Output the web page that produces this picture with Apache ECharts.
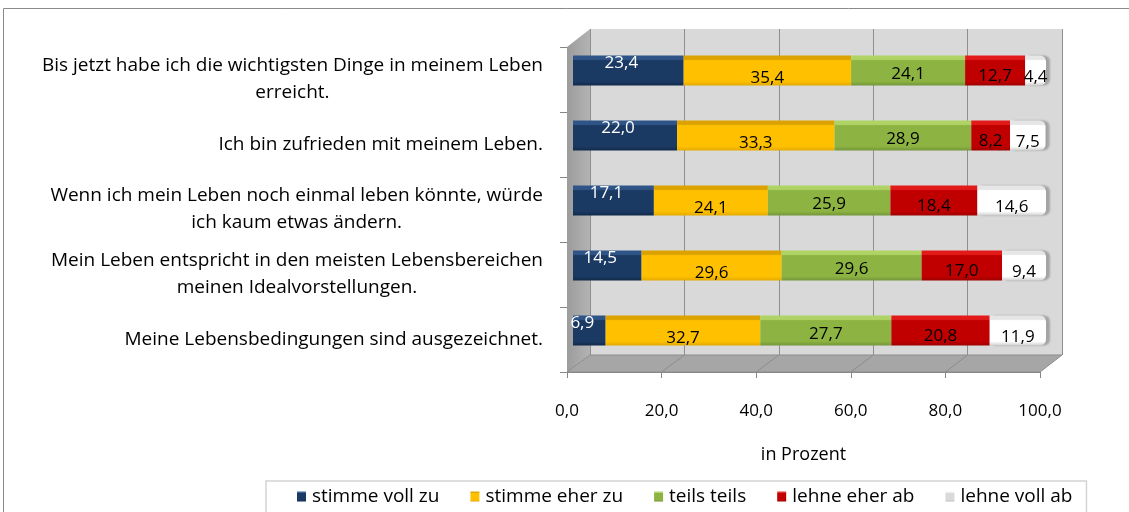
<!DOCTYPE html>
<html>
<head>
<meta charset="utf-8">
<script src="https://cdn.jsdelivr.net/npm/echarts@6/dist/echarts.min.js"></script>
<style>
  html, body { margin: 0; padding: 0; background: #ffffff; }
  #chart { width: 1129px; height: 512px; }
</style>
</head>
<body>
<div id="chart"></div>
<script>
// Statements (top to bottom) and answer shares in percent
const categories = [
  'Bis jetzt habe ich die wichtigsten Dinge in meinem Leben\nerreicht.',
  'Ich bin zufrieden mit meinem Leben.',
  'Wenn ich mein Leben noch einmal leben könnte, würde\nich kaum etwas ändern.',
  'Mein Leben entspricht in den meisten Lebensbereichen\nmeinen Idealvorstellungen.',
  'Meine Lebensbedingungen sind ausgezeichnet.'
];
const seriesNames = ['stimme voll zu', 'stimme eher zu', 'teils teils', 'lehne eher ab', 'lehne voll ab'];
const stimmeVollZu = [23.4, 22.0, 17.1, 14.5, 6.9];
const stimmeEherZu = [35.4, 33.3, 24.1, 29.6, 32.7];
const teilsTeils   = [24.1, 28.9, 25.9, 29.6, 27.7];
const lehneEherAb  = [12.7, 8.2, 18.4, 17.0, 20.8];
const lehneVollAb  = [4.4, 7.5, 14.6, 9.4, 11.9];
const axisMin = 0, axisMax = 100, axisStep = 20;
const axisTitle = 'in Prozent';

const FONT = '"Open Sans", "Noto Sans", sans-serif';

// Pseudo-3D frame: front axis plane, bar plane (mid depth) and back wall
const front = { left: 567, top: 47, width: 473, height: 325 };
const bars  = { left: 573, top: 38, width: 473, height: 325 };
const wall  = { left: 590, top: 29, width: 472, height: 326 };

const fmt = v => v.toFixed(1).replace('.', ',');

function shade(top, face, bottom) {
  return new echarts.graphic.LinearGradient(0, 0, 0, 1, [
    { offset: 0, color: top },
    { offset: 0.13, color: top },
    { offset: 0.17, color: face },
    { offset: 0.86, color: face },
    { offset: 1, color: bottom }
  ]);
}

const styles = [
  { fill: shade('#2f5588', '#1b3a63', '#12294a'), text: '#ffffff', offset: [-7, -7] },
  { fill: shade('#dca300', '#ffc000', '#e3aa00'), text: '#000000', offset: [0, 8] },
  { fill: shade('#b0d366', '#8db442', '#73963a'), text: '#000000', offset: [0, 4] },
  { fill: shade('#e21a1a', '#c00000', '#9e0000'), text: '#000000', offset: [0, 6] },
  { fill: shade('#e6e6e6', '#ffffff', '#cfcfcf'), text: '#000000', offset: [0, 7] }
];
const legendIcons = [
  shade('#3b6397', '#1b3a63', '#12294a'),
  shade('#e0a800', '#ffc000', '#d99e00'),
  shade('#b5d66e', '#8db442', '#6b8d35'),
  shade('#e83030', '#c00000', '#950000'),
  shade('#f2f2f2', '#d9d9d9', '#bdbdbd')
];
const values = [stimmeVollZu, stimmeEherZu, teilsTeils, lehneEherAb, lehneVollAb];

const series = values.map((data, i) => ({
  name: seriesNames[i],
  type: 'bar',
  stack: 'total',
  xAxisIndex: 2,
  yAxisIndex: 2,
  barWidth: 30,
  data: data,
  itemStyle: Object.assign(
    { color: styles[i].fill },
    i === values.length - 1
      ? { borderRadius: [0, 6, 6, 0], shadowColor: 'rgba(120,120,120,0.55)', shadowOffsetX: 4, shadowBlur: 2 }
      : {}
  ),
  label: {
    show: true,
    position: 'inside',
    offset: styles[i].offset,
    formatter: p => fmt(p.value),
    color: styles[i].text,
    fontFamily: FONT,
    fontSize: 17
  },
  emphasis: { disabled: true },
  animation: false
}));

// Decorative side wall and floor of the 3D frame
const floorY0 = wall.top + wall.height;
const floorY1 = front.top + front.height;
const floorLines = [];
for (let v = axisMin + axisStep; v < axisMax; v += axisStep) {
  const t = (v - axisMin) / (axisMax - axisMin);
  floorLines.push({
    type: 'line', z: 1, silent: true,
    shape: { x1: wall.left + t * wall.width, y1: floorY0, x2: front.left + t * front.width, y2: floorY1 },
    style: { stroke: '#8c8c8c', lineWidth: 1 }
  });
}

const graphic = [
  { type: 'rect', z: 0, silent: true,
    shape: { x: 3.5, y: 8.5, width: 1300, height: 700 },
    style: { fill: 'none', stroke: '#8a8a8a', lineWidth: 1 } },
  { type: 'polygon', z: 1, silent: true,
    shape: { points: [[front.left, front.top], [wall.left, wall.top], [wall.left, floorY0], [front.left, floorY1]] },
    style: { fill: new echarts.graphic.LinearGradient(0, 0, 1, 0, [
      { offset: 0, color: '#9c9c9c' }, { offset: 1, color: '#b3b3b3' }]) } },
  { type: 'polygon', z: 1, silent: true,
    shape: { points: [[front.left, floorY1], [wall.left, floorY0], [wall.left + wall.width, floorY0], [front.left + front.width, floorY1]] },
    style: { fill: '#a6a6a6', stroke: '#8c8c8c', lineWidth: 1 } }
].concat(floorLines);

const option = {
  backgroundColor: '#ffffff',
  animation: false,
  graphic: graphic,
  grid: [
    Object.assign({ show: true, backgroundColor: '#d9d9d9', borderWidth: 0, containLabel: false }, wall),
    Object.assign({ show: false, containLabel: false }, front),
    Object.assign({ show: false, containLabel: false }, bars)
  ],
  xAxis: [
    { type: 'value', gridIndex: 0, min: axisMin, max: axisMax, interval: axisStep,
      axisLine: { show: false }, axisTick: { show: false }, axisLabel: { show: false },
      splitLine: { show: true, lineStyle: { color: '#8f8f8f', width: 1 } } },
    { type: 'value', gridIndex: 1, min: axisMin, max: axisMax, interval: axisStep,
      axisLine: { show: true, lineStyle: { color: '#868686', width: 1 } },
      axisTick: { show: true, length: 6, lineStyle: { color: '#868686' } },
      axisLabel: { show: true, margin: 31, formatter: v => fmt(v), color: '#000000', fontFamily: FONT, fontSize: 17 },
      splitLine: { show: false },
      name: axisTitle, nameLocation: 'middle', nameGap: 74,
      nameTextStyle: { color: '#000000', fontFamily: FONT, fontSize: 18 } },
    { type: 'value', gridIndex: 2, min: axisMin, max: axisMax, show: false }
  ],
  yAxis: [
    { type: 'category', gridIndex: 0, data: categories, inverse: true, show: false },
    { type: 'category', gridIndex: 1, data: categories, inverse: true,
      axisLine: { show: false },
      axisTick: { show: true, length: 7, lineStyle: { color: '#868686' } },
      splitLine: { show: false },
      axisLabel: {
        show: true, margin: 24, color: '#000000', fontFamily: FONT, fontSize: 19, lineHeight: 27,
        formatter: v => v.split('\n').map(s => '{c|' + s + '}').join('\n'),
        rich: { c: { align: 'center', color: '#000000', fontFamily: FONT, fontSize: 19, lineHeight: 27 } }
      } },
    { type: 'category', gridIndex: 2, data: categories, inverse: true, show: false }
  ],
  legend: {
    data: seriesNames.map((name, i) => ({ name: name, itemStyle: { color: legendIcons[i] } })),
    left: 266, top: 481,
    orient: 'horizontal',
    icon: 'rect',
    itemWidth: 9, itemHeight: 10, itemGap: 31,
    padding: [6, 14, 20, 31],
    borderColor: '#d4d4d4', borderWidth: 1.5,
    backgroundColor: '#ffffff',
    textStyle: { color: '#000000', fontFamily: FONT, fontSize: 19, padding: [0, 0, 0, 1] },
    selectedMode: false
  },
  series: series
};

const chart = echarts.init(document.getElementById('chart'), null, { renderer: 'canvas' });
chart.setOption(option);
</script>
</body>
</html>
